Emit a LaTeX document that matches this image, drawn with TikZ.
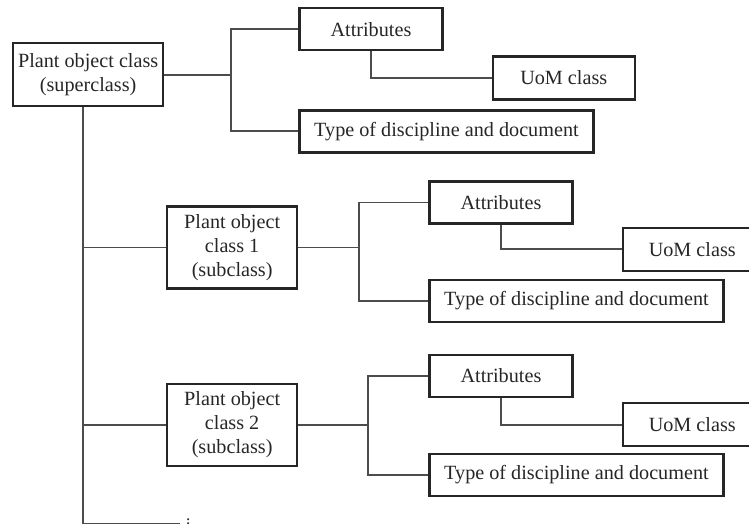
\documentclass[tikz,border=0pt]{standalone}
\usepackage{fontspec}
\setmainfont{Liberation Serif}
\usetikzlibrary{positioning}

\begin{document}
\begin{tikzpicture}[x=1pt, y=-1pt, node distance=48pt and 48pt]
	% ----- Styles -----
	\tikzset{
		box/.style={
			rectangle, draw=black!85, line width=2.3pt,
			inner sep=0pt, align=center, text=black!85,
			font=\fontsize{20.2}{24}\selectfont
		},
		superbox/.style={box, minimum width=150pt, minimum height=63pt},
		subbox/.style={box, minimum width=130pt, minimum height=82pt},
		attrbox/.style={box, minimum width=143pt, minimum height=42pt},
		uombox/.style={box, minimum width=139pt, minimum height=43pt},
		typebox/.style={box, minimum width=294pt, minimum height=42pt},
		dotsnode/.style={inner xsep=6pt, inner ysep=0pt, text height=15pt, text depth=6pt,
			text=black!85, font=\fontsize{17}{19}\selectfont},
		link/.style={line width=1.9pt, draw=black!70}
	}
	\useasboundingbox (0,0) rectangle (749,524);
	\clip (0,0) rectangle (749,524);

	% ----- Nodes -----
	\node (super) [superbox, anchor=north west] at (12,42) {Plant object class\\(superclass)};
	\node (attrA) [attrbox, right=134pt of super.north east, anchor=north west, yshift=35pt] {Attributes};
	\node (uomA)  [uombox, below right=4pt and 48pt of attrA.south east, anchor=north west, minimum width=142pt] {UoM class};
	\node (typeA) [typebox, below=58pt of attrA.south west, anchor=north west] {Type of discipline and document};

	\node (sub1)  [subbox, below right=98pt and 154pt of super.south west, anchor=north west] {Plant object\\class 1\\(subclass)};
	\node (attrB) [attrbox, right=130pt of sub1.north east, anchor=north west, yshift=25pt] {Attributes};
	\node (uomB)  [uombox, below right=2pt and 48pt of attrB.south east, anchor=north west] {UoM class};
	\node (typeB) [typebox, below=54pt of attrB.south west, anchor=north west] {Type of discipline and document};

	\node (sub2)  [subbox, below=93pt of sub1] {Plant object\\class 2\\(subclass)};
	\node (attrC) [attrbox, right=130pt of sub2.north east, anchor=north west, yshift=29pt] {Attributes};
	\node (uomC)  [uombox, below right=4pt and 48pt of attrC.south east, anchor=north west] {UoM class};
	\node (typeC) [typebox, below=55pt of attrC.south west, anchor=north west] {Type of discipline and document};

	\node (more)  [dotsnode, below right=57pt and 14pt of sub2.south west, anchor=west] {$\vdots$};

	% ----- Connectors -----
	\coordinate (trunk) at ([xshift=-5pt]super.south);
	\coordinate [left=67pt of attrA.west] (busA);
	\coordinate [left=69pt of attrB.west] (busB);
	\coordinate [left=60pt of attrC.west] (busC);

	\draw[link] (trunk) |- (more.west);
	\draw[link] (trunk |- sub1.west) -- (sub1.west);
	\draw[link] (trunk |- sub2.west) -- (sub2.west);

	\foreach \g/\p in {A/super, B/sub1, C/sub2}{
		\draw[link] (\p.east) -- (\p.east -| bus\g);
		\draw[link] (attr\g.west) -- (bus\g) |- (type\g.west);
		\draw[link] (attr\g.south) |- (uom\g.west);
	}
\end{tikzpicture}
\end{document}
